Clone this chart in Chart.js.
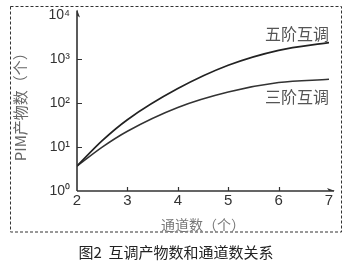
<!DOCTYPE html>
<html><head><meta charset="utf-8">
<script src="https://cdn.jsdelivr.net/npm/chart.js@4"></script>
<style>html,body{margin:0;padding:0;background:#fff}#w{width:350px;height:263px}</style>
</head><body><div id="w"><canvas id="c"></canvas></div>
<script>
const channels = [2, 2.5, 3, 4, 5, 6, 7];
const fifthOrder = [3.7, 14, 42, 215, 730, 1600, 2400];
const thirdOrder = [3.7, 10, 23, 80, 180, 295, 350];
const yTicks = [1, 10, 100, 1000, 10000];
const yTickLabels = ['10⁰', '10¹', '10²', '10³', '10⁴'];
const xTicks = [2, 3, 4, 5, 6, 7];
const seriesNames = ['五阶互调', '三阶互调'];
const xTitle = '通道数（个）';
const yTitle = 'PIM产物数（个）';
const caption = '图2  互调产物数和通道数关系';

const CJK = '"Noto Sans CJK SC", sans-serif';
const LAT = '"Liberation Sans", Arial, sans-serif';

const decor = {
  id: 'decor',
  beforeDraw(chart) {
    const ctx = chart.ctx;
    ctx.save();
    ctx.fillStyle = '#fff';
    ctx.fillRect(0, 0, chart.width, chart.height);
    ctx.strokeStyle = '#333';
    ctx.lineWidth = 1;
    ctx.setLineDash([3, 2]);
    ctx.strokeRect(10.5, 6.5, 331, 225.5);
    ctx.restore();
  },
  afterDatasetsDraw(chart) {
    const ctx = chart.ctx;
    const xs = chart.scales.x, ys = chart.scales.y;
    const L = xs.left, B = ys.bottom;
    ctx.save();
    ctx.strokeStyle = '#333';
    ctx.fillStyle = '#333';
    ctx.lineWidth = 1.6;
    ctx.beginPath();
    ctx.moveTo(L, B); ctx.lineTo(L, ys.top - 5);
    ctx.moveTo(L, B); ctx.lineTo(xs.right + 5, B);
    ctx.stroke();
    ctx.beginPath();
    ctx.moveTo(L, ys.top - 6); ctx.lineTo(L + 3, ys.top + 2); ctx.lineTo(L, ys.top); ctx.closePath(); ctx.fill();
    ctx.beginPath();
    ctx.moveTo(xs.right + 6, B); ctx.lineTo(xs.right - 2, B - 3); ctx.lineTo(xs.right, B); ctx.closePath(); ctx.fill();
    ctx.lineWidth = 1.2;
    ctx.beginPath();
    yTicks.slice(1, 4).forEach(v => { const y = Math.round(ys.getPixelForValue(v)) + 0.5; ctx.moveTo(L, y); ctx.lineTo(L + 5, y); });
    xTicks.slice(1, 5).forEach(v => { const x = Math.round(xs.getPixelForValue(v)) + 0.5; ctx.moveTo(x, B); ctx.lineTo(x, B - 4); });
    ctx.stroke();
    ctx.fillStyle = '#555';
    ctx.font = '16px ' + CJK;
    ctx.textAlign = 'right';
    ctx.textBaseline = 'middle';
    const xr = xs.getPixelForValue(channels[channels.length - 1]);
    ctx.fillText(seriesNames[0], xr, ys.getPixelForValue(fifthOrder[fifthOrder.length - 1]) - 9);
    ctx.fillText(seriesNames[1], xr, ys.getPixelForValue(thirdOrder[thirdOrder.length - 1]) + 18);
    ctx.fillStyle = '#222';
    ctx.font = '15px ' + CJK;
    ctx.textAlign = 'center';
    ctx.fillText(caption, 176, 252);
    ctx.restore();
  }
};

new Chart(document.getElementById('c'), {
  type: 'line',
  data: {
    labels: channels,
    datasets: [
      { label: seriesNames[0], data: channels.map((x, i) => ({x, y: fifthOrder[i]})), borderColor: '#222', borderWidth: 1.7, pointRadius: 0, cubicInterpolationMode: 'monotone', fill: false },
      { label: seriesNames[1], data: channels.map((x, i) => ({x, y: thirdOrder[i]})), borderColor: '#333', borderWidth: 1.5, pointRadius: 0, cubicInterpolationMode: 'monotone', fill: false }
    ]
  },
  options: {
    responsive: true,
    maintainAspectRatio: false,
    animation: false,
    devicePixelRatio: 1,
    layout: { padding: { left: 10, right: 21, top: 15, bottom: 30 } },
    plugins: { legend: { display: false }, tooltip: { enabled: false } },
    scales: {
      x: {
        type: 'linear', min: 2, max: 7,
        afterBuildTicks: s => { s.ticks = xTicks.map(v => ({value: v})); },
        afterFit: s => { s.height = 42; },
        grid: { display: false, drawTicks: false },
        border: { display: false },
        ticks: { padding: 1, color: '#333', font: { family: LAT, size: 15 }, maxRotation: 0, autoSkip: false },
        title: { display: true, text: xTitle, color: '#777', font: { family: CJK, size: 14 }, padding: 0 }
      },
      y: {
        type: 'logarithmic', min: 1, max: 10000,
        afterBuildTicks: s => { s.ticks = yTicks.map(v => ({value: v})); },
        afterFit: s => { s.width = 67; },
        grid: { display: false, drawTicks: false },
        border: { display: false },
        ticks: { padding: 7, color: '#333', font: { family: LAT, size: 14 }, callback: (v) => yTickLabels[yTicks.indexOf(v)] ?? '' },
        title: { display: true, text: yTitle, color: '#666', font: { family: CJK, size: 15 }, padding: { top: 1, bottom: 0 } }
      }
    }
  },
  plugins: [decor]
});
</script></body></html>
